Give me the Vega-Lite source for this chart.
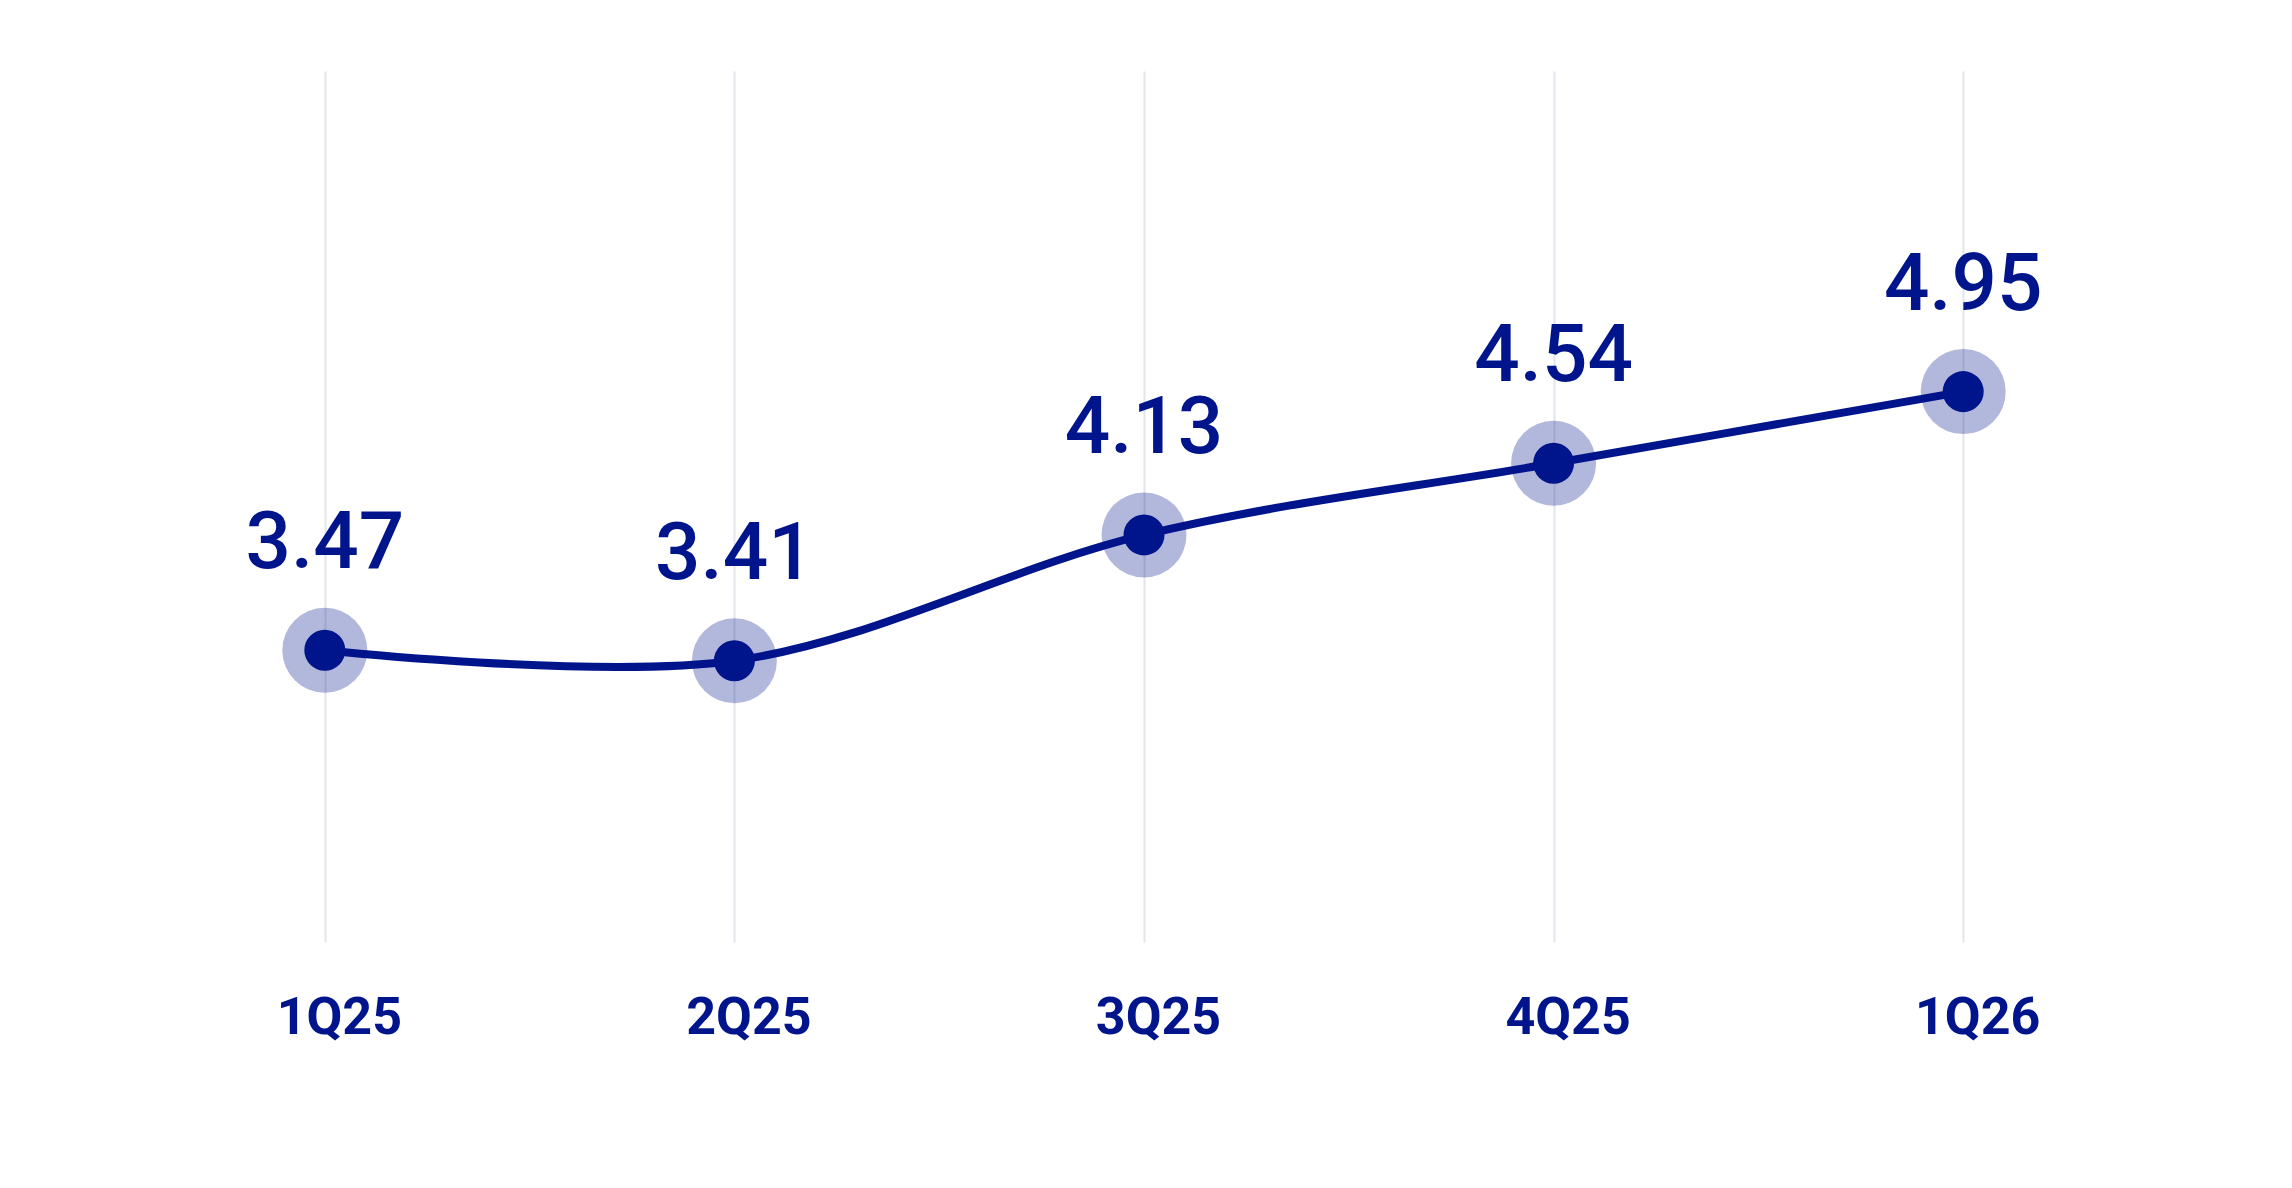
{
  "$schema": "https://vega.github.io/schema/vega-lite/v6.json",
  "autosize": "none",
  "width": 2048,
  "height": 871,
  "padding": {"left": 120, "top": 71, "right": 124, "bottom": 246},
  "background": "white",
  "config": {"view": {"stroke": null}},
  "data": {"values": [
    {"q": "1Q25", "v": 3.47},
    {"q": "2Q25", "v": 3.41},
    {"q": "3Q25", "v": 4.13},
    {"q": "4Q25", "v": 4.54},
    {"q": "1Q26", "v": 4.95}
  ]},
  "encoding": {
    "x": {"field": "q", "type": "ordinal", "sort": null,
      "scale": {"type": "point", "padding": 0.5},
      "axis": {"title": null, "orient": "bottom", "domain": false, "ticks": false,
        "grid": true, "gridColor": "#E2E5EC", "gridWidth": 2,
        "labelFont": "Roboto", "labelFontWeight": "bold", "labelFontSize": 52,
        "labelColor": "#00148C", "labelPadding": 91, "labelBaseline": "alphabetic",
        "labelOffset": 14, "labelAngle": 0}},
    "y": {"field": "v", "type": "quantitative",
      "scale": {"domain": [1.8, 6.785], "zero": false, "nice": false},
      "axis": null}
  },
  "layer": [
    {"mark": {"type": "line", "interpolate": "catmull-rom", "color": "#00148C", "strokeWidth": 8}},
    {"mark": {"type": "point", "shape": "circle", "filled": true, "size": 7225, "color": "#00148C", "opacity": 0.3}},
    {"mark": {"type": "point", "shape": "circle", "filled": true, "size": 1681, "color": "#00148C", "opacity": 1}},
    {"mark": {"type": "text", "font": "Roboto", "fontWeight": 500, "fontSize": 80, "color": "#00148C", "baseline": "alphabetic", "dy": -82},
     "encoding": {"text": {"field": "v", "type": "quantitative", "format": ".2f"}}}
  ]
}
